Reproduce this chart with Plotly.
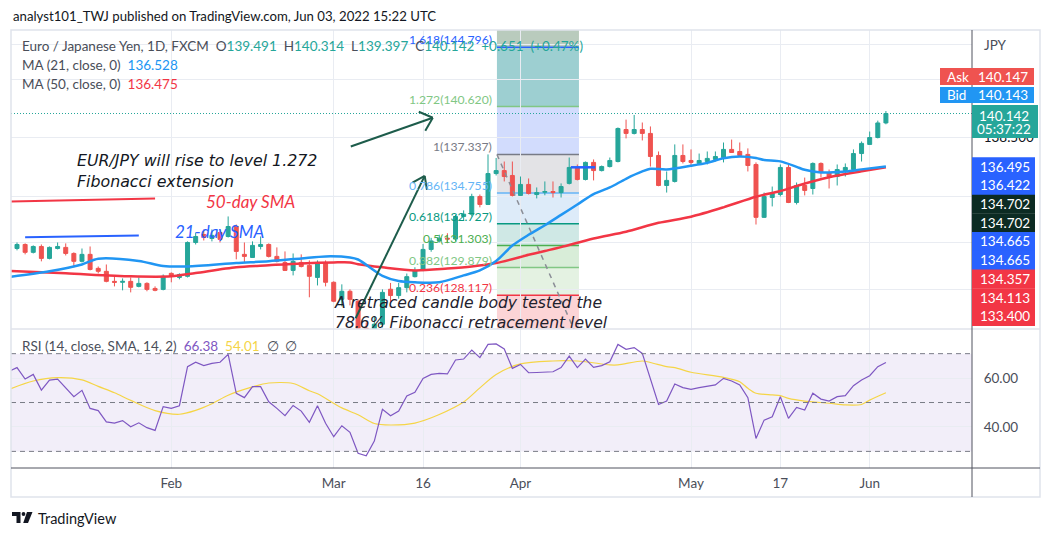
import math
import pandas as pd
import plotly.graph_objects as go

# EUR/JPY daily (FXCM), one candle per weekday
dates = pd.bdate_range("2022-01-05", "2022-06-03")
bars = list(range(len(dates)))

opens = [131.11, 131.37, 130.86, 131.24, 130.47, 131.11, 131.18, 130.79, 130.28, 130.73,
         129.83, 129.64, 129.00, 128.94, 129.00, 128.68, 128.87, 128.55, 128.49, 129.51,
         129.25, 129.32, 131.50, 132.02, 131.76, 132.15, 131.89, 132.54, 130.73, 130.53,
         131.24, 131.37, 130.60, 130.21, 129.70, 130.21, 130.02, 129.25, 130.21, 128.94,
         127.86, 128.37, 127.74, 126.05, 125.80, 126.30, 128.50, 128.10, 128.60, 129.30,
         129.70, 131.05, 131.60, 131.78, 131.72, 133.20, 133.35, 134.52, 133.99, 136.05,
         136.25, 135.92, 134.59, 135.32, 134.65, 134.80, 134.85, 134.78, 135.39, 136.46,
         135.65, 136.80, 136.25, 136.52, 136.86, 139.04, 138.77, 139.04, 138.77, 137.27,
         135.25, 135.52, 137.27, 136.93, 136.73, 136.86, 137.00, 137.13, 137.68, 137.54,
         137.34, 136.66, 133.14, 134.45, 134.65, 136.46, 134.12, 135.25, 135.05, 136.73,
         136.12, 135.85, 136.25, 136.32, 137.40, 138.02, 138.49, 139.491]
highs = [131.50, 131.44, 131.31, 131.37, 131.24, 131.50, 131.44, 130.86, 131.11, 131.24,
         129.95, 130.08, 129.32, 129.19, 129.25, 129.25, 128.94, 128.68, 129.44, 129.57,
         129.51, 131.57, 132.15, 132.35, 132.35, 132.28, 133.20, 132.67, 131.50, 131.57,
         131.89, 131.44, 131.18, 130.92, 130.79, 130.73, 130.34, 130.34, 130.34, 129.00,
         128.81, 128.49, 127.86, 126.40, 126.80, 128.49, 128.90, 128.90, 129.50, 129.90,
         131.40, 131.80, 132.00, 132.10, 133.30, 133.60, 134.70, 134.65, 137.34, 137.10,
         136.86, 136.86, 135.85, 135.72, 135.12, 135.52, 135.52, 135.39, 137.13, 136.66,
         136.86, 137.00, 136.59, 137.13, 139.18, 139.72, 140.04, 139.52, 139.25, 137.54,
         136.19, 138.02, 138.02, 137.68, 137.40, 137.54, 137.54, 138.15, 138.35, 138.15,
         137.75, 136.80, 134.78, 135.18, 136.66, 136.66, 135.45, 135.78, 136.80, 136.80,
         136.32, 136.66, 136.73, 137.68, 138.22, 138.90, 139.65, 140.314]
lows = [130.99, 130.73, 130.79, 130.28, 130.41, 131.05, 130.66, 129.89, 130.21, 129.70,
        129.51, 128.94, 128.68, 128.43, 128.30, 128.62, 128.37, 128.37, 128.43, 128.94,
        129.13, 129.25, 131.37, 131.63, 131.57, 131.50, 131.82, 130.41, 130.21, 130.53,
        131.05, 130.53, 130.21, 129.66, 129.38, 129.89, 127.99, 128.74, 128.68, 127.68,
        127.42, 127.48, 125.70, 124.40, 125.40, 126.10, 127.70, 127.90, 128.30, 129.25,
        129.65, 130.90, 131.50, 131.45, 131.60, 132.90, 133.20, 133.80, 133.95, 135.92,
        135.52, 134.52, 134.55, 134.65, 134.39, 134.60, 134.45, 134.45, 135.32, 135.59,
        135.59, 135.59, 136.19, 136.46, 136.80, 138.43, 138.70, 138.29, 136.52, 135.20,
        134.78, 135.45, 136.73, 136.52, 136.66, 136.66, 136.86, 136.80, 137.45, 137.20,
        136.19, 132.67, 133.10, 133.86, 134.52, 134.08, 133.99, 134.59, 134.65, 135.78,
        135.05, 135.25, 135.85, 136.19, 136.86, 138.00, 138.43, 139.397]
closes = [131.37, 130.86, 131.24, 130.47, 131.18, 131.24, 130.79, 130.28, 130.73, 129.76,
          129.64, 129.00, 128.94, 129.00, 128.62, 128.87, 128.49, 128.43, 129.32, 129.32,
          129.44, 131.50, 131.89, 131.82, 131.96, 131.70, 132.54, 130.92, 130.60, 131.31,
          131.37, 130.60, 130.28, 129.70, 130.28, 129.95, 129.32, 130.21, 128.94, 127.74,
          128.37, 127.86, 126.05, 125.80, 126.30, 128.30, 128.10, 128.60, 129.30, 129.70,
          131.05, 131.60, 131.78, 131.72, 133.20, 133.35, 134.52, 133.99, 136.05, 136.25,
          135.85, 134.59, 135.32, 134.72, 134.78, 134.85, 134.78, 135.18, 136.46, 135.65,
          136.80, 136.25, 136.52, 136.93, 139.11, 138.77, 139.04, 138.77, 137.20, 135.25,
          135.59, 137.27, 136.86, 136.80, 136.93, 137.07, 137.20, 137.68, 137.47, 137.27,
          136.59, 133.14, 134.52, 134.72, 136.46, 134.12, 135.25, 134.92, 136.73, 136.12,
          135.85, 136.32, 136.46, 137.40, 138.09, 138.49, 139.49, 140.142]

# moving averages, read at sample bars
ma21_bar = [-1, 4, 8, 10, 15, 18, 21, 27, 31, 35, 38, 41, 42, 45, 47, 49, 52, 55, 57, 59,
            61, 63, 65, 67, 69, 71, 73, 75, 77, 78, 80, 83, 85, 87, 89, 91, 92, 94, 96, 97,
            99, 102, 104, 107]
ma21_val = [129.28, 129.64, 130.08, 130.45, 130.30, 129.98, 129.95, 130.17, 130.29, 130.47,
            130.60, 130.53, 130.40, 129.35, 129.02, 128.94, 128.94, 129.38, 129.70, 130.30,
            131.30, 132.00, 132.62, 133.30, 133.99, 134.68, 135.12, 135.70, 136.19, 136.37,
            136.32, 136.57, 136.77, 137.08, 137.20, 137.10, 136.96, 136.87, 136.50, 136.30,
            136.12, 136.19, 136.33, 136.528]
ma50_bar = [-1, 6, 14, 19, 22, 27, 31, 35, 39, 41, 42, 45, 49, 53, 56, 59, 63, 65, 67, 71,
            75, 79, 83, 87, 91, 94, 96, 100, 104, 107]
ma50_val = [129.66, 129.51, 129.32, 129.32, 129.53, 129.90, 130.03, 130.15, 130.21, 130.21,
            130.10, 129.90, 129.70, 129.82, 129.95, 130.17, 130.70, 130.95, 131.20, 131.76,
            132.20, 132.78, 133.18, 133.80, 134.50, 134.88, 135.22, 135.80, 136.20, 136.475]

# RSI(14) starting one bar left of the view, and its SMA(14)
rsi_first_bar = -1
rsi_vals = [62.8,
            64.3, 59.6, 61.5, 55.1, 59.2, 59.6, 56.1, 52.4, 55.0, 47.6,
            46.7, 42.1, 41.6, 42.6, 40.1, 41.7, 39.7, 38.6, 48.3, 47.6,
            48.7, 64.7, 66.5, 65.1, 66.0, 66.5, 69.7, 53.8, 52.0, 56.5,
            56.5, 50.3, 47.6, 44.6, 48.8, 46.5, 41.9, 48.7, 41.5, 36.0,
            40.5, 37.8, 29.2, 28.2, 34.2, 47.2, 44.6, 46.5, 52.7, 54.2,
            59.9, 61.5, 61.9, 61.7, 67.4, 67.8, 71.5, 68.4, 73.8, 74.0,
            71.9, 64.0, 65.6, 62.2, 62.3, 62.4, 62.6, 64.3, 69.0, 64.3,
            67.8, 64.4, 65.1, 66.7, 73.8, 71.8, 72.5, 70.1, 59.9, 49.2,
            50.6, 57.6, 56.1, 55.4, 56.1, 56.8, 57.2, 59.9, 58.8, 57.2,
            52.0, 35.3, 42.8, 44.2, 52.4, 43.5, 48.0, 46.9, 53.8, 51.4,
            50.6, 52.4, 52.8, 56.9, 59.2, 61.0, 64.7, 66.4]
rsi_sma_bar = [-1, 2, 5, 8, 10, 12, 14, 17, 20, 22, 24, 26, 29, 31, 34, 36, 37, 40, 42, 44,
               46, 49, 52, 55, 57, 59, 62, 66, 68, 70, 73, 74, 77, 78, 80, 81, 83, 87, 89, 90,
               91, 93, 94, 95, 97, 100, 102, 104, 105, 107]
rsi_sma_val = [55.4, 58.8, 60.2, 59.3, 56.6, 54.0, 50.9, 46.7, 45.2, 46.8, 49.5, 53.0, 56.4,
               58.0, 57.8, 54.8, 53.6, 47.8, 45.0, 41.4, 40.8, 41.6, 45.1, 50.2, 56.0, 61.5,
               65.8, 67.0, 67.1, 66.7, 65.4, 65.4, 67.0, 66.4, 64.7, 64.3, 62.4, 60.3, 58.5,
               55.8, 53.8, 53.1, 52.8, 51.7, 50.6, 49.7, 49.0, 49.2, 51.0, 54.0]

# fibonacci drawing
fib_labels = ["0.236", "0.382", "0.5", "0.618", "0.786", "1", "1.272", "1.618"]
fib_prices = [128.117, 129.879, 131.303, 132.727, 134.755, 137.337, 140.620, 144.796]
fib_zero = 125.269
fib_cap = 156.860
fib_start, fib_end = 59.1, 69.2
fib_line_colors = ["#f23645", "#81c784", "#4caf50", "#089981", "#64b5f6", "#787b86", "#81c784", "#2962ff"]
fib_fill_colors = ["#fcd4d6", "#e4f2e2", "#d8edd8", "#cfe8e5", "#ddebf9", "#e3e3e6", "#d2dcfd", "#9dcfd1", "#b9cbbd"]

tick_dates = ["2022-02-01", "2022-03-01", "2022-03-16", "2022-04-01", "2022-05-02", "2022-05-17", "2022-06-01"]
tick_text = ["Feb", "Mar", "16", "Apr", "May", "17", "Jun"]
price_grid = [128.5, 131.5, 134.5, 138.5, 142.5, 145.0]
last_price = 140.142

stack_values = ["136.495", "136.422", "134.702", "134.702", "134.665", "134.665", "134.357", "134.113", "133.400"]
stack_colors = ["#2962ff", "#2962ff", "#0c2b23", "#0c2b23", "#2962ff", "#2962ff", "#f23645", "#f23645", "#f23645"]

# page body has an 8px margin, so the figure is 8px smaller and everything below
# is given in screen pixels of the final 1052x536 picture
PAGE = 8
W, H = 1052 - PAGE, 536 - PAGE
X_LEFT, X_RIGHT, Y_TOP, Y_BOTTOM = 11, 972, 30, 468
ML, MT = X_LEFT - PAGE, Y_TOP - PAGE
MR, MB = W - (X_RIGHT - PAGE), H - (Y_BOTTOM - PAGE)
X_RANGE = [-0.74, 117.6]
Y_RANGE = [2.100379, 2.164465]


def px(x):
    return (x - X_LEFT) / (X_RIGHT - X_LEFT)


def py(y):
    return (Y_BOTTOM - y) / (Y_BOTTOM - Y_TOP)


split = py(329)
bar_px = (X_RIGHT - X_LEFT) / (X_RANGE[1] - X_RANGE[0])
log_px = (329 - Y_TOP) / (Y_RANGE[1] - Y_RANGE[0])

FONT = "Lato"
NOTE_FONT = "DejaVu Sans"
UP, DOWN = "#26a69a", "#ef5350"
GRID = "#e9ecf2"
TXT = "#131722"
GREY = "#4a4e59"

fig = go.Figure()

fig.add_trace(go.Candlestick(
    x=bars, open=opens, high=highs, low=lows, close=closes,
    increasing=dict(line=dict(color=UP, width=1), fillcolor=UP),
    decreasing=dict(line=dict(color=DOWN, width=1), fillcolor=DOWN),
    whiskerwidth=0, showlegend=False, hoverinfo="skip"))
fig.add_trace(go.Scatter(x=ma50_bar, y=ma50_val, mode="lines", showlegend=False,
                         line=dict(color="#f23645", width=2.5, shape="spline", smoothing=0.8)))
fig.add_trace(go.Scatter(x=ma21_bar, y=ma21_val, mode="lines", showlegend=False,
                         line=dict(color="#2196f3", width=2.5, shape="spline", smoothing=0.8)))

rsi_x = list(range(rsi_first_bar, rsi_first_bar + len(rsi_vals)))
fig.add_trace(go.Scatter(x=rsi_sma_bar, y=rsi_sma_val, yaxis="y2", mode="lines", showlegend=False,
                         line=dict(color="#f5d547", width=1.2, shape="spline", smoothing=0.8)))
fig.add_trace(go.Scatter(x=rsi_x, y=rsi_vals, yaxis="y2", mode="lines", showlegend=False,
                         line=dict(color="#7e57c2", width=1.2)))

shapes = []
ann = []

# RSI pane band and levels
shapes.append(dict(type="rect", xref="paper", yref="y2", x0=0, x1=1, y0=30, y1=70,
                   fillcolor="rgba(126,87,194,0.1)", line_width=0, layer="below"))
for lv in (70, 50, 30):
    shapes.append(dict(type="line", xref="paper", yref="y2", x0=0, x1=1, y0=lv, y1=lv,
                       line=dict(color="#787b86", width=1, dash="5px,4px")))

# fib zones
levels = [fib_zero] + fib_prices + [fib_cap]
for i, col in enumerate(fib_fill_colors):
    shapes.append(dict(type="rect", xref="x", yref="y", x0=fib_start, x1=fib_end,
                       y0=levels[i], y1=levels[i + 1], fillcolor=col, line_width=0, layer="below"))
for lab, p, col in zip(fib_labels, fib_prices, fib_line_colors):
    shapes.append(dict(type="line", xref="x", yref="y", x0=fib_start, x1=fib_end, y0=p, y1=p,
                       line=dict(color=col, width=1.5), layer="below"))
    ann.append(dict(x=fib_start, y=math.log10(p), xref="x", yref="y", xanchor="right", yanchor="bottom",
                    xshift=-3, yshift=-2, text=f"{lab}({p:.3f})", showarrow=False,
                    font=dict(family=FONT, size=12.2, color=col)))
shapes.append(dict(type="line", xref="x", yref="y", x0=fib_start, y0=fib_prices[5], x1=fib_end, y1=fib_zero,
                   line=dict(color="#8a8d96", width=1.5, dash="5px,5px")))

# last price line
shapes.append(dict(type="line", xref="paper", yref="y", x0=0, x1=1, y0=last_price, y1=last_price,
                   line=dict(color=UP, width=1, dash="1px,2px")))

# hand drawn lines
shapes.append(dict(type="line", xref="x", yref="y", x0=-0.74, y0=134.19, x1=17.0, y1=134.39,
                   line=dict(color="#f23645", width=2)))
shapes.append(dict(type="line", xref="x", yref="y", x0=1.0, y0=131.84, x1=15.0, y1=131.96,
                   line=dict(color="#2962ff", width=2)))
shapes.append(dict(type="line", xref="x", yref="y", x0=68.2, y0=136.47, x1=71.2, y1=136.47,
                   line=dict(color="#2962ff", width=2.5)))

# arrows: tail, tip, chevron arms as screen offsets (dx right, dy down)
arrows = [((41.1, 137.88), (51.2, 139.85), [(-14, -6), (-7.5, 13)]),
          ((41.7, 126.67), (50.2, 135.89), [(-12.2, 6.8), (2.3, 13.8)])]
AR = "#1d5c4b"
for (b0, p0), (b1, p1), arms in arrows:
    shapes.append(dict(type="line", xref="x", yref="y", x0=b0, y0=p0, x1=b1, y1=p1,
                       line=dict(color=AR, width=2)))
    for dx, dy in arms:
        shapes.append(dict(type="line", xref="x", yref="y", x0=b1, y0=p1,
                           x1=b1 + dx / bar_px, y1=p1 * 10 ** (-dy / log_px),
                           line=dict(color=AR, width=2)))

# drawing texts
ann.append(dict(x=23.0, y=math.log10(134.19), xref="x", yref="y", xanchor="left", yanchor="middle",
                text="<i>50-day SMA</i>", showarrow=False, font=dict(family=FONT, size=17, color="#f23645")))
ann.append(dict(x=19.2, y=math.log10(132.22), xref="x", yref="y", xanchor="left", yanchor="middle",
                text="<i>21-day SMA</i>", showarrow=False, font=dict(family=FONT, size=17, color="#2962ff")))
ann.append(dict(x=7.1, y=math.log10(136.19), xref="x", yref="y", xanchor="left", yanchor="middle", align="left",
                text="<i>EUR/JPY will rise to level 1.272<br>Fibonacci extension</i>", showarrow=False,
                font=dict(family=NOTE_FONT, size=15.8, color=TXT)))
ann.append(dict(x=38.8, y=math.log10(127.01), xref="x", yref="y", xanchor="left", yanchor="middle", align="left",
                text="<i>A retraced candle body tested the<br>78.6% Fibonacci retracement level</i>", showarrow=False,
                font=dict(family=NOTE_FONT, size=15.6, color="#1e222d")))

# frame and separators
shapes.append(dict(type="rect", xref="paper", yref="paper", x0=px(11), x1=px(1040), y0=py(497), y1=py(30),
                   line=dict(color="#e0e3eb", width=1.5)))
shapes.append(dict(type="line", xref="paper", yref="paper", x0=px(11), x1=px(1040), y0=split, y1=split,
                   line=dict(color="#e0e3eb", width=1.5)))
shapes.append(dict(type="line", xref="paper", yref="paper", x0=px(11), x1=px(1040), y0=0, y1=0,
                   line=dict(color="#50535e", width=1)))
shapes.append(dict(type="line", xref="paper", yref="paper", x0=1, x1=1, y0=py(497), y1=1,
                   line=dict(color="#50535e", width=1)))


def label(x, y, text, size=13.5, color=GREY, anchor="left"):
    ann.append(dict(x=px(x), y=py(y), xref="paper", yref="paper", xanchor=anchor, yanchor="middle",
                    text=text, showarrow=False, font=dict(family=FONT, size=size, color=color)))


def span(t, c):
    return f"<span style='color:{c}'>{t}</span>"


sp = "\u00a0\u00a0"
label(11, 16, "analyst101_TWJ published on TradingView.com, Jun 03, 2022 15:22 UTC", 13.2, TXT)
label(20, 46, "Euro / Japanese Yen, 1D, FXCM" + sp + "O" + span("139.491", UP) + sp + "H" + span("140.314", UP)
      + sp + "L" + span("139.397", UP) + sp + "C" + span("140.142", UP) + sp + span("+0.651" + sp + "(+0.47%)", UP))
label(20, 65, "MA (21, close, 0)" + sp + span("136.528", "#2196f3"))
label(20, 84, "MA (50, close, 0)" + sp + span("136.475", "#f23645"))
label(20, 346, "RSI (14, close, SMA, 14, 2)" + sp + span("66.38", "#7e57c2") + sp + span("54.01", "#f5d547")
      + sp + "\u2205" + sp + "\u2205")
label(982, 45, "JPY", 13.5, GREY)

# price tags on the right scale
for name, val, col, y0, y1 in [("Ask", "140.147", "#ef5350", 68, 85), ("Bid", "140.143", "#2196f3", 87, 103)]:
    shapes.append(dict(type="rect", xref="paper", yref="paper", x0=px(940), x1=px(1034), y0=py(y1), y1=py(y0),
                       fillcolor=col, line_width=0))
    label(945, (y0 + y1) / 2, name, 13.5, "white")
    label(1030, (y0 + y1) / 2, val, 13.5, "white", "right")
shapes.append(dict(type="rect", xref="paper", yref="paper", x0=px(972), x1=px(1038), y0=py(138), y1=py(105),
                   fillcolor=UP, line_width=0))
label(1004, 115.5, "140.142", 13.5, "white", "center")
label(1004, 129.5, "05:37:22", 13.5, "white", "center")
row_h = 18.7
for i, (val, col) in enumerate(zip(stack_values, stack_colors)):
    top = 157.3 + i * row_h
    shapes.append(dict(type="rect", xref="paper", yref="paper", x0=px(972), x1=px(1035),
                       y0=py(top + row_h + 0.4), y1=py(top), fillcolor=col, line_width=0))
    label(1005, top + row_h / 2, val, 13.5, "white", "center")


# TradingView logo
def path(pts):
    return "M" + " L".join(f"{px(a)},{py(b)}" for a, b in pts) + " Z"


shapes.append(dict(type="path", xref="paper", yref="paper", line_width=0, fillcolor=TXT,
                   path=path([(12, 512), (20.5, 512), (20.5, 523), (16.5, 523), (16.5, 516), (12, 516)])))
shapes.append(dict(type="circle", xref="paper", yref="paper", line_width=0, fillcolor=TXT,
                   x0=px(21.6), x1=px(25.4), y0=py(515.9), y1=py(512.1)))
shapes.append(dict(type="path", xref="paper", yref="paper", line_width=0, fillcolor=TXT,
                   path=path([(27, 512), (32.5, 512), (28, 523), (23.2, 523)])))
label(36, 518, "TradingView", 14.5, TXT)

tickvals = [dates.get_loc(pd.Timestamp(d)) for d in tick_dates]

fig.update_layout(
    width=W, height=H,
    margin=dict(l=ML, r=MR, t=MT, b=MB, pad=0),
    paper_bgcolor="white", plot_bgcolor="white",
    showlegend=False,
    xaxis=dict(range=X_RANGE, anchor="y2", tickvals=tickvals, ticktext=tick_text,
               showgrid=True, gridcolor=GRID, zeroline=False, showline=False,
               ticks="outside", ticklen=3, tickcolor="rgba(0,0,0,0)",
               tickfont=dict(family=FONT, size=13.5, color=GREY),
               rangeslider=dict(visible=False), fixedrange=True),
    yaxis=dict(type="log", domain=[split, 1], range=Y_RANGE, side="right", anchor="x",
               tickvals=price_grid, ticktext=["", "", "", "138.500", "", ""],
               showgrid=True, gridcolor=GRID, zeroline=False, showline=False,
               ticks="outside", ticklen=8, tickcolor="rgba(0,0,0,0)",
               tickfont=dict(family=FONT, size=13.5, color=TXT), fixedrange=True),
    yaxis2=dict(domain=[0, split], range=[23.2, 80.1], side="right", anchor="x",
                tickvals=[40, 60], ticktext=["40.00", "60.00"],
                showgrid=True, gridcolor=GRID, zeroline=False, showline=False,
                ticks="outside", ticklen=8, tickcolor="rgba(0,0,0,0)",
                tickfont=dict(family=FONT, size=13.5, color=GREY), fixedrange=True),
    shapes=shapes,
    annotations=ann,
)

fig.write_html("out.html")
